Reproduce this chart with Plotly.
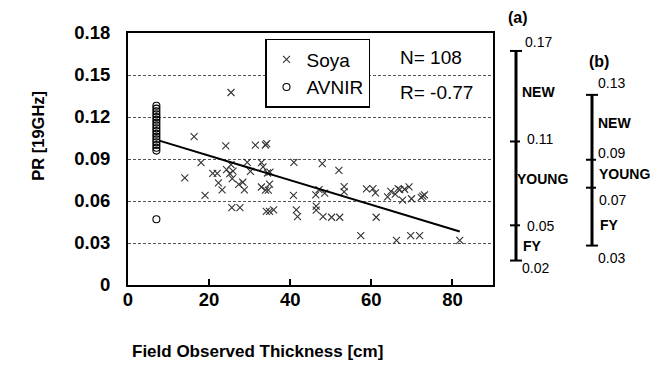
import plotly.graph_objects as go

# ---------------- data ----------------
soya_x = [14.0, 16.3, 18.0, 19.0, 20.9, 22.0, 22.3, 23.2, 24.1, 24.3, 25.1, 25.4, 25.4, 25.6,
          25.7, 25.9, 27.3, 27.6, 28.3, 28.7, 29.4, 30.2, 31.4, 32.9, 32.9, 33.3, 33.9, 33.9,
          34.2, 34.1, 34.4, 34.6, 34.9, 34.9, 35.0, 35.9, 40.9, 40.8, 41.5, 41.8, 46.3, 46.4,
          46.4, 47.1, 47.9, 48.1, 48.5, 50.2, 52.0, 52.2, 53.3, 53.3, 57.4, 58.8, 60.4, 61.0,
          61.2, 64.0, 64.8, 65.9, 66.2, 66.6, 67.0, 67.7, 68.2, 69.3, 69.7, 69.9, 71.9, 72.3,
          72.7, 73.1, 81.8]
soya_y = [0.0765, 0.106, 0.0874, 0.064, 0.0798, 0.0798, 0.0729, 0.068, 0.0994, 0.0824, 0.0796,
          0.1375, 0.086, 0.0552, 0.076, 0.0814, 0.0718, 0.0552, 0.0734, 0.068, 0.0876, 0.0812,
          0.0999, 0.0874, 0.070, 0.0843, 0.0677, 0.100, 0.101, 0.0526, 0.080, 0.0677, 0.072,
          0.0526, 0.0807, 0.0536, 0.0876, 0.064, 0.0536, 0.0488, 0.0644, 0.0564, 0.0535, 0.0682,
          0.0867, 0.0488, 0.0656, 0.0484, 0.0819, 0.0484, 0.0703, 0.0665, 0.0353, 0.0687, 0.0689,
          0.0658, 0.0484, 0.063, 0.0668, 0.0649, 0.0318, 0.0689, 0.0682, 0.0606, 0.0684, 0.0701,
          0.0353, 0.0616, 0.0353, 0.0626, 0.0635, 0.0644, 0.0318]

avnir_x = [7.0] * 18
avnir_y = [0.128, 0.126, 0.124, 0.122, 0.120, 0.118, 0.116, 0.114, 0.112, 0.110, 0.108,
           0.106, 0.104, 0.102, 0.100, 0.098, 0.096, 0.047]

fit_x = [7.7, 81.8]
fit_y = [0.1031, 0.0382]

y_ticks = [0, 0.03, 0.06, 0.09, 0.12, 0.15, 0.18]
y_tick_text = ["0", "0.03", "0.06", "0.09", "0.12", "0.15", "0.18"]
x_ticks = [0, 20, 40, 60, 80]

stats_text = ["N= 108", "R= -0.77"]

scale_a_values = ["0.17", "0.11", "0.05", "0.02"]
scale_a_zones = ["NEW", "YOUNG", "FY"]
scale_b_values = ["0.13", "0.09", "0.07", "0.03"]
scale_b_zones = ["NEW", "YOUNG", "FY"]

# ---------------- layout geometry ----------------
W, H = 653, 372
L, R, T, B = 128, 493, 33, 285.5
PW, PH = R - L, B - T
FONT = "Liberation Sans, Arial"


def px(x):
    return (x - L) / PW


def py(y):
    return (B - y) / PH


fig = go.Figure()
fig.add_trace(go.Scatter(x=soya_x, y=soya_y, mode="markers", name="Soya",
                         marker=dict(symbol="x-thin-open", size=7, color="#333",
                                     line=dict(width=1.1, color="#333"))))
fig.add_trace(go.Scatter(x=avnir_x, y=avnir_y, mode="markers", name="AVNIR",
                         marker=dict(symbol="circle-open", size=7, color="black",
                                     line=dict(width=1.1, color="black"))))
fig.add_trace(go.Scatter(x=fit_x, y=fit_y, mode="lines", showlegend=False,
                         line=dict(color="black", width=2)))

shapes = []
annotations = []

# stats annotations
for txt, ypix in zip(stats_text, [58, 93]):
    annotations.append(dict(x=px(398), y=py(ypix), xref="paper", yref="paper",
                            text=txt, showarrow=False, xanchor="left", yanchor="middle",
                            font=dict(size=19, color="black", family=FONT)))

# axis titles
annotations.append(dict(x=px(257.5), y=py(352), xref="paper", yref="paper",
                        text="<b>Field Observed Thickness [cm]</b>", showarrow=False,
                        xanchor="center", yanchor="middle",
                        font=dict(size=17, color="black", family=FONT)))
annotations.append(dict(x=px(38), y=py(136), xref="paper", yref="paper",
                        text="<b>PR [19GHz]</b>", showarrow=False, textangle=-90,
                        xanchor="center", yanchor="middle",
                        font=dict(size=16.5, color="black", family=FONT)))


def side_scale(label, label_pos, x_line, y_top, y_bot, mids, cap_half, mid_span,
               values, val_pos, zones, zone_pos):
    shapes.append(dict(type="line", xref="paper", yref="paper", x0=px(x_line), x1=px(x_line),
                       y0=py(y_top), y1=py(y_bot), line=dict(color="black", width=3)))
    for yy in (y_top, y_bot):
        shapes.append(dict(type="line", xref="paper", yref="paper",
                           x0=px(x_line - cap_half), x1=px(x_line + cap_half),
                           y0=py(yy), y1=py(yy), line=dict(color="black", width=2)))
    for yy in mids:
        shapes.append(dict(type="line", xref="paper", yref="paper",
                           x0=px(x_line - mid_span[0]), x1=px(x_line + mid_span[1]),
                           y0=py(yy), y1=py(yy), line=dict(color="black", width=2)))
    annotations.append(dict(x=px(label_pos[0]), y=py(label_pos[1]), xref="paper", yref="paper",
                            text="<b>" + label + "</b>", showarrow=False, xanchor="left",
                            yanchor="middle",
                            font=dict(size=16, color="black", family=FONT)))
    for txt, (xx, yy) in zip(values, val_pos):
        annotations.append(dict(x=px(xx), y=py(yy), xref="paper", yref="paper", text=txt,
                                showarrow=False, xanchor="left", yanchor="middle",
                                font=dict(size=14, color="black", family=FONT)))
    for txt, (xx, yy) in zip(zones, zone_pos):
        annotations.append(dict(x=px(xx), y=py(yy), xref="paper", yref="paper",
                                text="<b>" + txt + "</b>", showarrow=False, xanchor="left",
                                yanchor="middle",
                                font=dict(size=14, color="black", family=FONT)))


side_scale("(a)", (506, 17), 516, 51, 261, [141.7, 225.7], 6, (6, 4),
           scale_a_values, [(523, 42), (525, 139), (525, 226), (520, 268)],
           scale_a_zones, [(520, 92), (515, 179), (521, 246)])
side_scale("(b)", (587, 62), 592, 95, 246, [160, 188], 6, (6, 4),
           scale_b_values, [(596, 83), (596, 153), (597, 200), (596, 258)],
           scale_b_zones, [(596, 123), (597, 174), (598, 225)])

fig.update_layout(
    width=W, height=H,
    margin=dict(l=L, r=W - R, t=T, b=H - B, autoexpand=False),
    paper_bgcolor="white", plot_bgcolor="white",
    font=dict(family=FONT, color="black"),
    showlegend=True,
    legend=dict(x=px(265), y=py(39), xanchor="left", yanchor="top",
                bgcolor="white", bordercolor="black", borderwidth=1.5,
                font=dict(size=19, color="black", family=FONT)),
    shapes=shapes,
    annotations=annotations,
)
fig.update_xaxes(range=[0, 90], tickvals=x_ticks, ticks="inside", ticklen=6, tickwidth=2,
                 tickcolor="black", showline=True, linecolor="black", linewidth=2, mirror=True,
                 showgrid=False, zeroline=False, ticklabelstandoff=-3,
                 tickfont=dict(size=18.5, family=FONT, color="black", weight="bold"))
fig.update_yaxes(range=[0, 0.18], tickvals=y_ticks, ticktext=y_tick_text, ticks="",
                 showline=True, linecolor="black", linewidth=2, mirror=True,
                 showgrid=True, gridcolor="#555", gridwidth=1, griddash="3px,2px",
                 zeroline=False, ticklabelstandoff=12,
                 tickfont=dict(size=18.5, family=FONT, color="black", weight="bold"))

fig.write_html("out.html")
